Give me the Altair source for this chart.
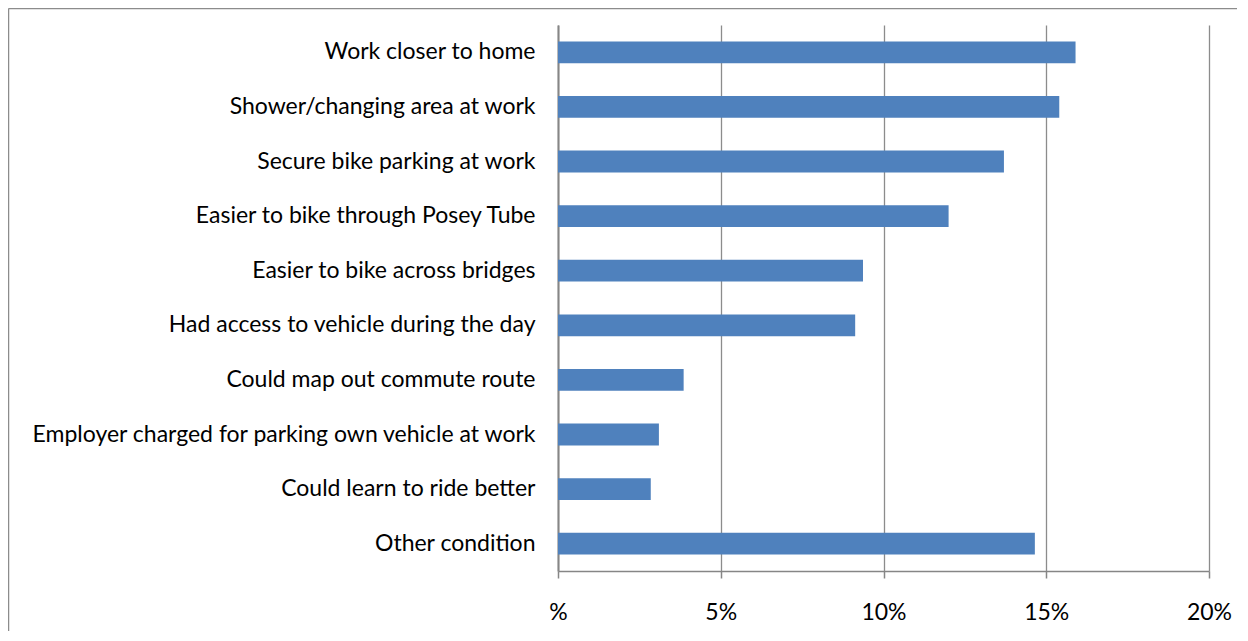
import altair as alt
import pandas as pd

categories = [
    "Work closer to home",
    "Shower/changing area at work",
    "Secure bike parking at work",
    "Easier to bike through Posey Tube",
    "Easier to bike across bridges",
    "Had access to vehicle during the day",
    "Could map out commute route",
    "Employer charged for parking own vehicle at work",
    "Could learn to ride better",
    "Other condition",
]
values = [15.9, 15.4, 13.7, 12.0, 9.37, 9.13, 3.86, 3.1, 2.85, 14.65]
x_ticks = [0, 5, 10, 15, 20]

df = pd.DataFrame({"condition": categories, "pct": values})

FONT = "Lato"

bars = alt.Chart(df).mark_bar(color="#4F81BD").encode(
    y=alt.Y(
        "condition:N",
        sort=categories,
        scale=alt.Scale(paddingInner=0.6, paddingOuter=0.3),
        axis=alt.Axis(
            title=None,
            ticks=False,
            labelPadding=23,
            labelFont=FONT,
            labelFontSize=23,
            labelColor="#000000",
            labelLimit=600,
            domainColor="#868686",
            domainWidth=2,
            grid=False,
        ),
    ),
    x=alt.X(
        "pct:Q",
        scale=alt.Scale(domain=[0, 20], nice=False),
        axis=alt.Axis(
            title=None,
            values=x_ticks,
            labelExpr="datum.value == 0 ? '%' : datum.value + '%'",
            labelFont=FONT,
            labelFontSize=23,
            labelColor="#000000",
            labelBaseline="middle",
            labelFlush=False,
            labelPadding=34,
            tickSize=7,
            tickColor="#868686",
            tickWidth=1.5,
            domainColor="#868686",
            domainWidth=1.5,
            grid=True,
            gridColor="#8C8C8C",
            gridWidth=1.3,
        ),
    ),
)

frame = pd.DataFrame({"a": [0]})
top_line = alt.Chart(frame).mark_rule(
    stroke="#8C8C8C", strokeWidth=1.5, clip=False
).encode(
    x=alt.value(-549.5),
    x2=alt.value(680),
    y=alt.value(-16.5),
)
left_line = alt.Chart(frame).mark_rule(
    stroke="#8C8C8C", strokeWidth=1.5, clip=False
).encode(
    x=alt.value(-549.5),
    y=alt.value(-16.5),
    y2=alt.value(620),
)

chart = alt.layer(top_line, left_line, bars).properties(
    width=651,
    height=546,
    padding={"left": 550, "top": 17, "right": 28, "bottom": 60},
    autosize=alt.AutoSizeParams(type="none"),
).configure_view(stroke=None)

chart.save("out.html", embed_options={"renderer": "svg", "actions": False})
